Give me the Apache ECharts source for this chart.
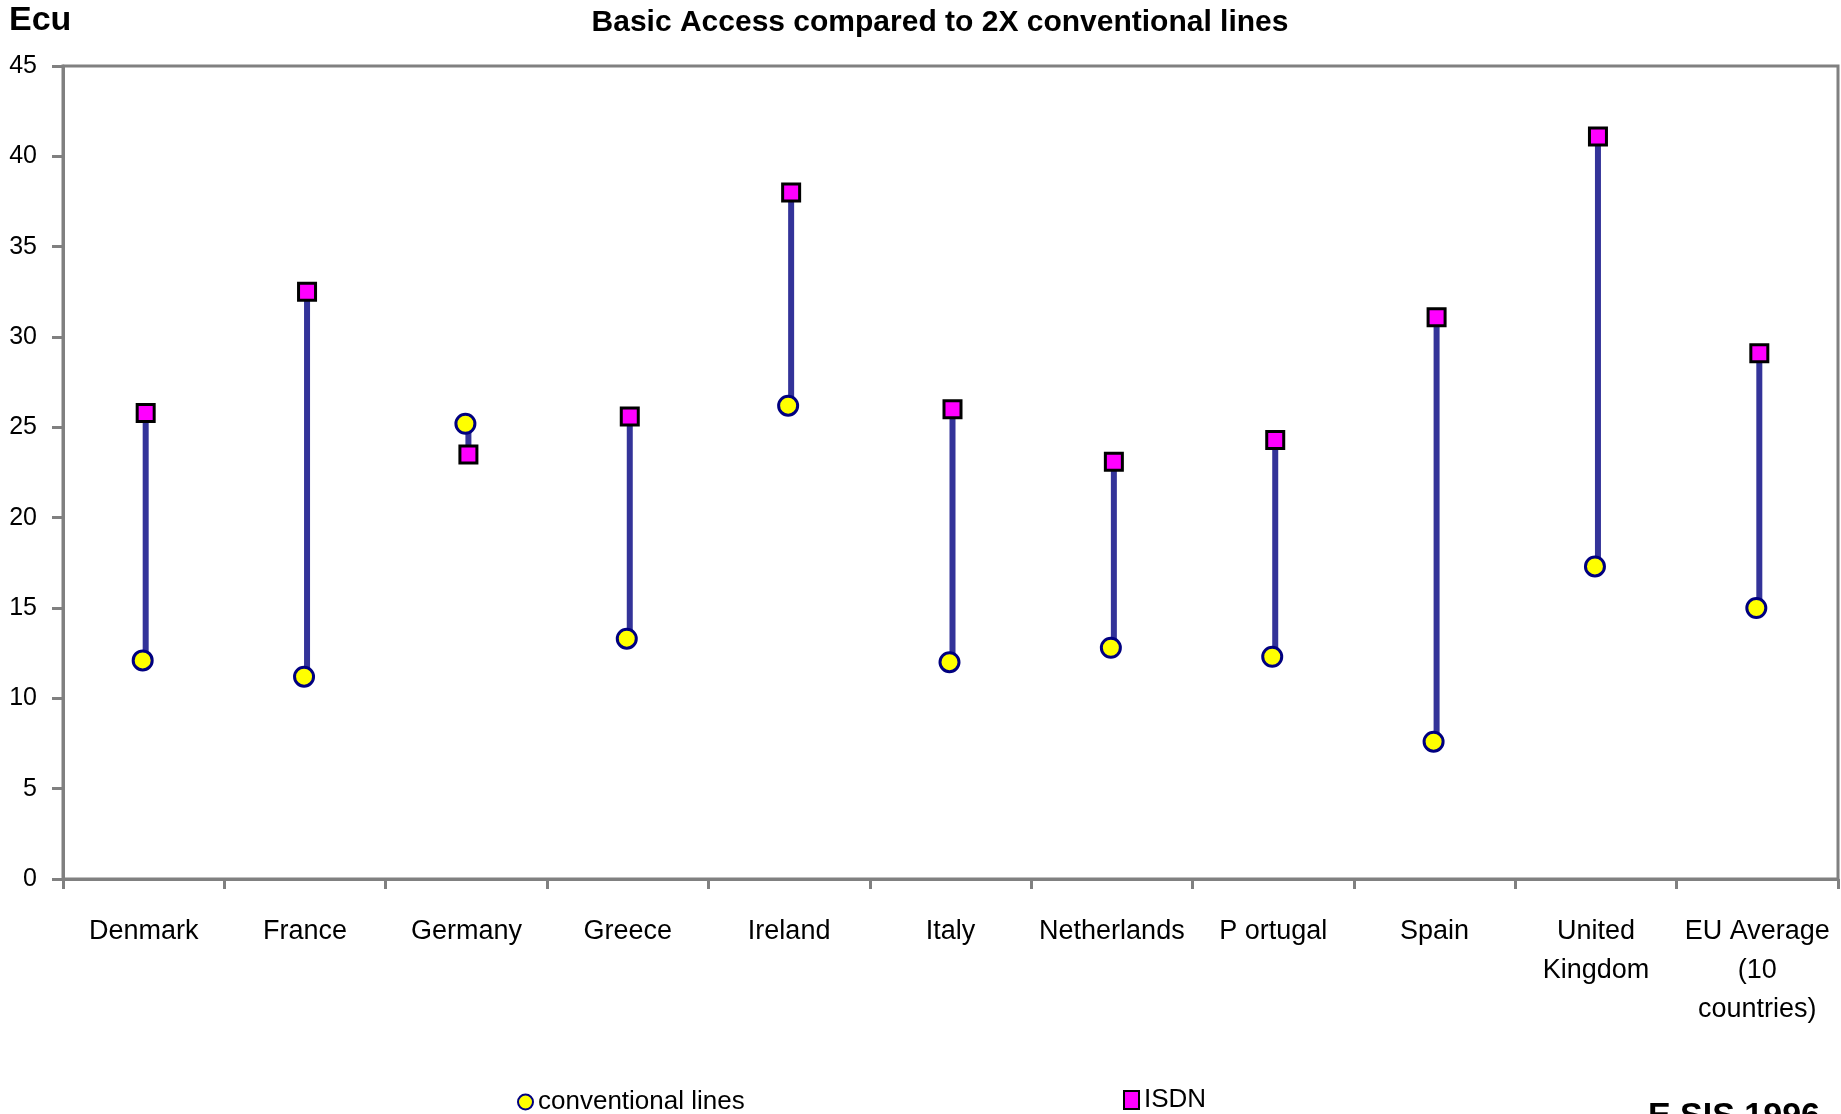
<!DOCTYPE html>
<html>
<head>
<meta charset="utf-8">
<script src="https://cdn.jsdelivr.net/npm/echarts@6/dist/echarts.min.js"></script>
<style>
  html, body { margin: 0; padding: 0; background: #ffffff; }
  #chart { width: 1841px; height: 1114px; }
</style>
</head>
<body>
<div id="chart"></div>
<script>
// Monthly basic access charge (Ecu): ISDN vs. two conventional lines
const countries = ['Denmark', 'France', 'Germany', 'Greece', 'Ireland', 'Italy',
  'Netherlands', 'P ortugal', 'Spain', 'United\nKingdom', 'EU Average\n(10\ncountries)'];
const conventionalLines = [12.1, 11.2, 25.2, 13.3, 26.2, 12.0, 12.8, 12.3, 7.6, 17.3, 15.0];
const isdn = [25.8, 32.5, 23.5, 25.6, 38.0, 26.0, 23.1, 24.3, 31.1, 41.1, 29.1];
const yTicks = { min: 0, max: 45, step: 5 };

const FONT = '"Liberation Sans Narrow", "Arial Narrow", "Liberation Sans", sans-serif';
const GREY = '#808080';

const chart = echarts.init(document.getElementById('chart'), null, { renderer: 'canvas' });

// pairs of [category index, conventional, isdn] for the connecting bars
const spans = countries.map((c, i) => [i, conventionalLines[i], isdn[i]]);

chart.setOption({
  animation: false,
  backgroundColor: '#ffffff',
  title: {
    text: 'Basic Access compared to 2X conventional lines',
    left: 935, top: 3, textAlign: 'center',
    textStyle: { fontFamily: FONT, fontWeight: 'bold', fontSize: 30, color: '#000' }
  },
  graphic: [
    { type: 'text', left: 9, top: 4,
      style: { text: 'Ecu', font: 'bold 34px ' + FONT, fill: '#000' } },
    { type: 'text', left: 1648, top: 1100,
      style: { text: 'E.SIS 1996', font: 'bold 34px ' + FONT, fill: '#000' } }
  ],
  legend: [
    { data: ['conventional lines'], left: 512, top: 1084, itemWidth: 15, itemHeight: 15,
      itemGap: 6, textStyle: { fontFamily: FONT, fontSize: 26, color: '#000', padding: [10, 0, 0, 0] } },
    { data: ['ISDN'], left: 1118, top: 1082, itemWidth: 15, itemHeight: 18,
      textStyle: { fontFamily: FONT, fontSize: 26, color: '#000', padding: [10, 0, 0, 0] } }
  ],
  grid: {
    left: 63, right: 3, top: 66, bottom: 235,
    show: true, borderColor: GREY, borderWidth: 3, containLabel: false
  },
  xAxis: {
    type: 'category',
    data: countries,
    boundaryGap: true,
    axisLine: { lineStyle: { color: GREY, width: 3 } },
    axisTick: { show: true, length: 10, lineStyle: { color: GREY, width: 3 } },
    axisLabel: { interval: 0, margin: 33, fontFamily: FONT, fontSize: 27, lineHeight: 39, color: '#000' },
    splitLine: { show: false }
  },
  yAxis: {
    type: 'value',
    min: yTicks.min, max: yTicks.max, interval: yTicks.step,
    axisLine: { show: true, lineStyle: { color: GREY, width: 3 } },
    axisTick: { show: true, length: 11, lineStyle: { color: GREY, width: 3 } },
    axisLabel: { margin: 26, fontFamily: FONT, fontSize: 25, color: '#000' },
    splitLine: { show: false }
  },
  series: [
    {
      name: 'range',
      type: 'custom',
      data: spans,
      encode: { x: 0, y: [1, 2] },
      renderItem: function (params, api) {
        const a = api.coord([api.value(0), api.value(1)]);
        const b = api.coord([api.value(0), api.value(2)]);
        return {
          type: 'line',
          shape: { x1: a[0] + 2, y1: a[1], x2: b[0] + 2, y2: b[1] },
          style: { stroke: '#333399', lineWidth: 6 }
        };
      },
      z: 1
    },
    {
      name: 'conventional lines',
      type: 'scatter',
      data: conventionalLines,
      symbol: 'circle',
      symbolSize: 19,
      symbolOffset: [-1, 0],
      itemStyle: { color: '#ffff00', borderColor: '#000080', borderWidth: 3, opacity: 1 },
      z: 3
    },
    {
      name: 'ISDN',
      type: 'scatter',
      data: isdn,
      symbol: 'rect',
      symbolSize: 17,
      symbolOffset: [2, 0],
      itemStyle: { color: '#ff00ff', borderColor: '#000000', borderWidth: 3, opacity: 1 },
      z: 3
    }
  ]
});
</script>
</body>
</html>
